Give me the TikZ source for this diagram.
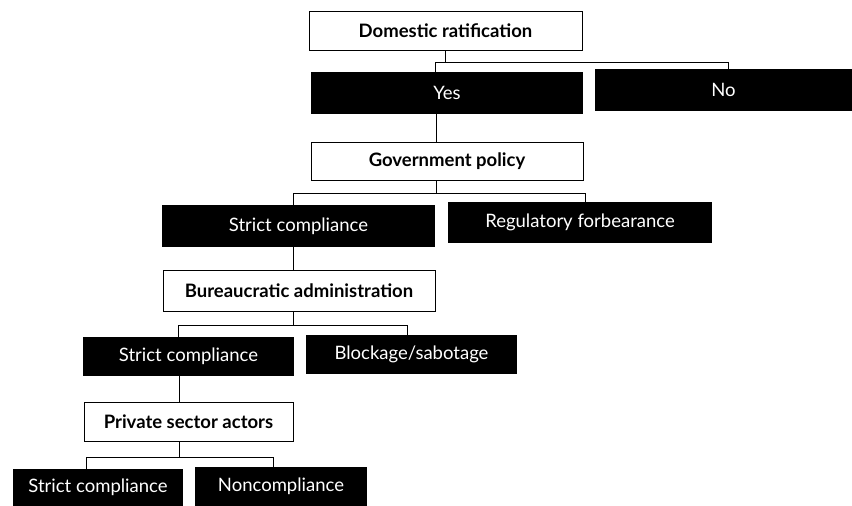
\documentclass[tikz,border=0pt]{standalone}
\usepackage{fontspec}
\setmainfont{Lato}
\begin{document}
\begin{tikzpicture}[x=1pt,y=-1pt,
  every node/.style={inner sep=0pt,outer sep=0pt},
  askbox/.style={draw=black,line width=0.9pt,fill=white,
    font=\fontsize{18.5}{22}\selectfont\bfseries},
  answerbox/.style={fill=black,text=white,
    font=\fontsize{18.5}{22}\selectfont},
  link/.style={draw=black,line width=0.9pt}]
\useasboundingbox (0,0) rectangle (852,506);

% level 1
\node[askbox,minimum width=273pt,minimum height=39pt] (dr) at (445.5,30.5) {Domestic ratification};
\node[answerbox,minimum width=272pt,minimum height=42pt] (yes) at (447,93) {Yes};
\node[answerbox,minimum width=257pt,minimum height=42pt] (no) at (723.5,90) {No};

% level 2
\node[askbox,minimum width=272pt,minimum height=38pt] (gp) at (447,161) {Government policy};
\node[answerbox,minimum width=273pt,minimum height=42pt] (sc1) at (298.5,226) {Strict compliance};
\node[answerbox,minimum width=264pt,minimum height=41pt] (rf) at (580,222.5) {Regulatory forbearance};

% level 3
\node[askbox,minimum width=272pt,minimum height=41pt] (ba) at (299,290.5) {Bureaucratic administration};
\node[answerbox,minimum width=211pt,minimum height=39pt] (sc2) at (188.5,356.5) {Strict compliance};
\node[answerbox,minimum width=211pt,minimum height=39pt] (bs) at (411.5,354.5) {Blockage/sabotage};

% level 4
\node[askbox,minimum width=209pt,minimum height=39pt] (psa) at (188.5,421.5) {Private sector actors};
\node[answerbox,minimum width=170pt,minimum height=37pt] (sc3) at (98,487.5) {Strict compliance};
\node[answerbox,minimum width=172pt,minimum height=39pt] (nc) at (281,486.5) {Noncompliance};

% branching points of each bar
\coordinate (a1) at (435,62);  \coordinate (a2) at (728,62);
\coordinate (s2) at (436,0);
\coordinate (b1) at (293,193); \coordinate (b2) at (585,193);
\coordinate (c1) at (178,325); \coordinate (c2) at (407,325);
\coordinate (d1) at (86,457);  \coordinate (d2) at (273,457);
\coordinate (s4) at (179,0);

% connectors
\draw[link] (dr.south) -- (dr.south |- a1);
\draw[link] (a1 |- yes.north) -- (a1) -- (a2) -- (a2 |- no.north);
\draw[link] (s2 |- yes.south) -- (s2 |- gp.north);

\draw[link] (s2 |- gp.south) -- (s2 |- b1);
\draw[link] (b1 |- sc1.north) -- (b1) -- (b2) -- (b2 |- rf.north);
\draw[link] (b1 |- sc1.south) -- (b1 |- ba.north);

\draw[link] (ba.south -| b1) -- (b1 |- c1);
\draw[link] (c1 |- sc2.north) -- (c1) -- (c2) -- (c2 |- bs.north);
\draw[link] (s4 |- sc2.south) -- (s4 |- psa.north);

\draw[link] (s4 |- psa.south) -- (s4 |- d1);
\draw[link] (d1 |- sc3.north) -- (d1) -- (d2) -- (d2 |- nc.north);
\end{tikzpicture}
\end{document}
